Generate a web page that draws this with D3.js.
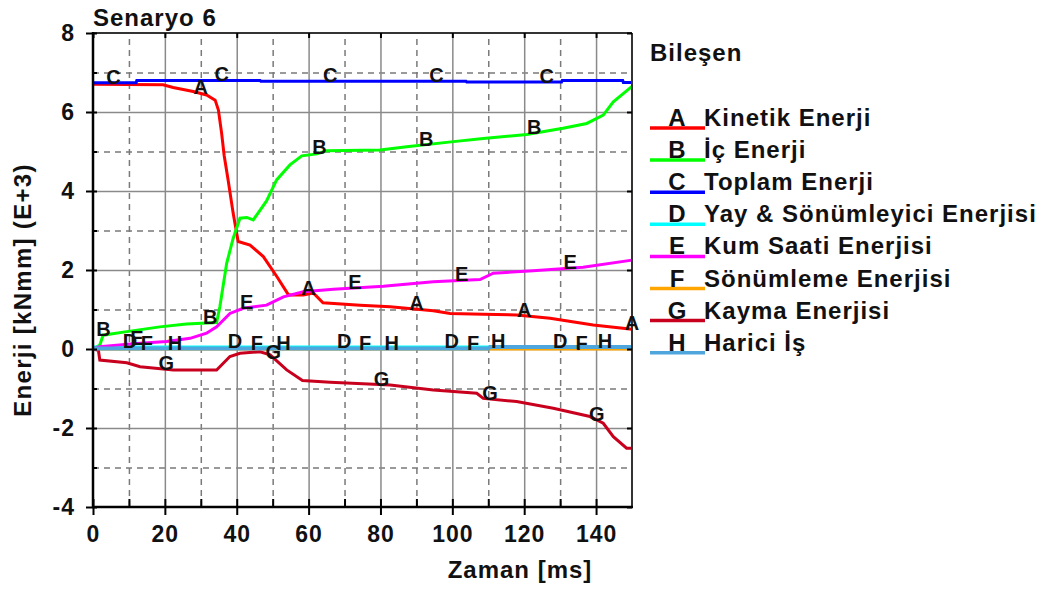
<!DOCTYPE html>
<html>
<head>
<meta charset="utf-8">
<script src="https://cdn.jsdelivr.net/npm/d3@7"></script>
<style>
body { margin: 0; background: #fff; }
text { font-family: "Liberation Sans", Arial, sans-serif; font-weight: bold; fill: #111; }
</style>
</head>
<body>
<svg width="1049" height="590"></svg>
<script>
// series keys, names, colours
const keys = ["A", "B", "C", "D", "E", "F", "G", "H"];
const names = ["Kinetik Enerji", "İç Enerji", "Toplam Enerji", "Yay & Sönümleyici Enerjisi",
               "Kum Saati Enerjisi", "Sönümleme Enerjisi", "Kayma Enerjisi", "Harici İş"];
const colors = ["#ff0000", "#00ff00", "#0000ff", "#00ffff", "#ff00ff", "#ffa500", "#c8001e", "#4ea6dc"];

const xTicks = [0, 20, 40, 60, 80, 100, 120, 140];
const xMinor = [10, 30, 50, 70, 90, 110, 130];
const yTicks = [-4, -2, 0, 2, 4, 6, 8];
const yMinor = [-3, -1, 1, 3, 5, 7];

// [time ms, energy E+3 kNmm]
const kinetik = [[0,6.70],[19.5,6.69],[22.3,6.62],[27.9,6.52],[31.6,6.43],[34,6.30],[34.9,6.05],[35.8,5.46],
  [36.5,4.90],[37.6,4.28],[39,3.44],[40.4,2.72],[43.7,2.63],[47.4,2.34],[51.2,1.83],[54.4,1.37],[58.5,1.37],
  [61.3,1.42],[64,1.17],[74.3,1.11],[82.7,1.07],[94.7,0.97],[99.4,0.90],[108.6,0.88],[117.9,0.86],
  [127.2,0.78],[139.2,0.61],[150,0.50]];
const icEnerji = [[0,0],[1.9,0.10],[2.8,0.35],[9.4,0.44],[18.6,0.56],[26,0.63],[34.4,0.67],[35.3,1.07],
  [37.2,2.17],[39,2.80],[40.9,3.31],[42.8,3.33],[44.6,3.27],[48.3,3.75],[51.1,4.28],[54.8,4.66],[58.1,4.89],
  [62.3,4.94],[65,5.02],[79.9,5.04],[87.3,5.12],[100.3,5.25],[108.6,5.33],[120.7,5.43],[130.8,5.59],
  [137.4,5.71],[142,5.92],[144.8,6.26],[150,6.65]];
const toplam = [[0,6.74],[12,6.74],[12.2,6.80],[46.5,6.80],[46.7,6.78],[103.8,6.78],[104,6.76],
  [130.4,6.76],[130.6,6.80],[147.4,6.80],[147.6,6.75],[150,6.75]];
const yay = [[0,0.05],[150,0.05]];
const kumSaati = [[0,0],[1.9,0.06],[11.2,0.13],[20.5,0.19],[27,0.27],[31.6,0.40],[34.4,0.56],[38.1,0.90],
  [41.8,1.03],[48.3,1.11],[53,1.32],[58.5,1.45],[66.9,1.51],[80.8,1.59],[94.7,1.70],[107.7,1.76],
  [111.4,1.92],[122.5,1.98],[136.4,2.07],[150,2.25]];
const sonumleme = [[0,0],[150,0]];
const kayma = [[0,0],[1.5,-0.03],[1.9,-0.28],[9.4,-0.35],[13.1,-0.45],[22.4,-0.53],[34.4,-0.53],[38.1,-0.19],
  [40.9,-0.11],[46.5,-0.07],[49.3,-0.15],[53.9,-0.53],[58.3,-0.80],[66,-0.84],[82.7,-0.91],[94.7,-1.04],
  [106.8,-1.12],[108.6,-1.25],[117.9,-1.33],[128.1,-1.50],[138.3,-1.71],[142,-1.88],[144.8,-2.22],
  [148.5,-2.51],[150,-2.51]];
const harici = [[0,0.01],[110,0.01],[110.5,0.05],[150,0.05]];

const series = [kinetik, icEnerji, toplam, yay, kumSaati, sonumleme, kayma, harici];

// where the letter tags sit on each curve (ms)
const labelTimes = [
  [30, 60, 90, 120, 150],
  [2.9, 32.6, 63, 92.7, 122.8],
  [5.7, 35.8, 66, 95.6, 126.3],
  [10.3, 39.5, 69.9, 99.8, 130],
  [12.2, 42.8, 72.9, 102.6, 132.8],
  [15, 45.6, 75.7, 105.8, 136],
  [20.4, 50.2, 80.3, 110.5, 140.2],
  [22.8, 53, 83.1, 112.8, 142.5]
];

const pl = 93, pt = 33, pr = 632, pb = 507;

const svg = d3.select("svg");

const x = d3.scaleLinear().domain([0, 150]).range([pl, pr]);
const y = d3.scaleLinear().domain([-4, 8]).range([pb, pt]);

// grid
svg.append("g")
  .attr("transform", "translate(0," + pb + ")")
  .call(d3.axisBottom(x).tickValues(xMinor).tickSize(-(pb - pt)).tickFormat(""))
  .call(g => g.select(".domain").remove())
  .selectAll("line").attr("stroke", "#7a7a7a").attr("stroke-width", 1.5).attr("stroke-dasharray", "6,5");
svg.append("g")
  .attr("transform", "translate(" + pl + ",0)")
  .call(d3.axisLeft(y).tickValues(yMinor).tickSize(-(pr - pl)).tickFormat(""))
  .call(g => g.select(".domain").remove())
  .selectAll("line").attr("stroke", "#7a7a7a").attr("stroke-width", 1.5).attr("stroke-dasharray", "6,5");
svg.append("g")
  .attr("transform", "translate(0," + pb + ")")
  .call(d3.axisBottom(x).tickValues(xTicks.slice(1)).tickSize(-(pb - pt)).tickFormat(""))
  .call(g => g.select(".domain").remove())
  .selectAll("line").attr("stroke", "#8a8a8a").attr("stroke-width", 1.5);
svg.append("g")
  .attr("transform", "translate(" + pl + ",0)")
  .call(d3.axisLeft(y).tickValues(yTicks.slice(1, -1)).tickSize(-(pr - pl)).tickFormat(""))
  .call(g => g.select(".domain").remove())
  .selectAll("line").attr("stroke", "#8a8a8a").attr("stroke-width", 1.5);

// curves
const line = d3.line().x(d => x(d[0])).y(d => y(d[1]));
series.forEach((s, i) => {
  svg.append("path")
    .datum(s)
    .attr("fill", "none")
    .attr("stroke", colors[i])
    .attr("stroke-width", i == 7 ? 4 : 3)
    .attr("d", line);
});

// frame
svg.append("line").attr("x1", pl).attr("x2", pr).attr("y1", pt).attr("y2", pt)
  .attr("stroke", "#333").attr("stroke-width", 2);
svg.append("line").attr("x1", pr).attr("x2", pr).attr("y1", pt).attr("y2", pb)
  .attr("stroke", "#333").attr("stroke-width", 2);
svg.append("line").attr("x1", pl).attr("x2", pl).attr("y1", pt - 1).attr("y2", pb + 1)
  .attr("stroke", "#000").attr("stroke-width", 2.5);
svg.append("line").attr("x1", pl - 1).attr("x2", pr + 1).attr("y1", pb).attr("y2", pb)
  .attr("stroke", "#000").attr("stroke-width", 2.5);

// ticks + tick labels (plain hyphen for negatives, like the original)
function tickStyle(g) {
  g.select(".domain").remove();
  g.selectAll("line").attr("stroke", "#000").attr("stroke-width", 2);
  g.selectAll("text").style("font-size", "23px").style("letter-spacing", "1px").attr("fill", "#111");
}
const plain = d => String(d);
svg.append("g").attr("transform", "translate(" + pl + ",0)")
  .call(d3.axisLeft(y).tickValues(yTicks).tickSize(7).tickPadding(11).tickFormat(plain)).call(tickStyle);
svg.append("g").attr("transform", "translate(" + pl + ",0)")
  .call(d3.axisRight(y).tickValues(yTicks).tickSize(4).tickFormat("")).call(tickStyle);
svg.append("g").attr("transform", "translate(" + pl + ",0)")
  .call(d3.axisRight(y).tickValues(yMinor).tickSize(4).tickFormat("")).call(tickStyle);
svg.append("g").attr("transform", "translate(0," + pb + ")")
  .call(d3.axisBottom(x).tickValues(xTicks).tickSize(8).tickPadding(11).tickFormat(plain)).call(tickStyle);
svg.append("g").attr("transform", "translate(0," + pb + ")")
  .call(d3.axisTop(x).tickValues(xTicks).tickSize(8).tickFormat("")).call(tickStyle);
svg.append("g").attr("transform", "translate(0," + pb + ")")
  .call(d3.axisTop(x).tickValues(xMinor).tickSize(8).tickFormat("")).call(tickStyle);
svg.append("g").attr("transform", "translate(0," + pt + ")")
  .call(d3.axisBottom(x).tickValues(xTicks).tickSize(5).tickFormat("")).call(tickStyle);
svg.append("g").attr("transform", "translate(" + pr + ",0)")
  .call(d3.axisLeft(y).tickValues(yTicks).tickSize(5).tickFormat("")).call(tickStyle);

// letter tags on curves
function valueAt(s, t) {
  for (let k = 1; k < s.length; k++) {
    if (t <= s[k][0]) {
      const a = s[k - 1], b = s[k];
      return a[1] + (b[1] - a[1]) * (t - a[0]) / (b[0] - a[0]);
    }
  }
  return s[s.length - 1][1];
}
series.forEach((s, i) => {
  svg.append("g").selectAll("text")
    .data(labelTimes[i])
    .enter()
    .append("text")
    .attr("x", d => x(d))
    .attr("y", d => y(valueAt(s, d)) + 1)
    .attr("text-anchor", "middle")
    .style("font-size", "20px")
    .text(keys[i]);
});

// titles
svg.append("text").attr("x", pl).attr("y", 26)
  .style("font-size", "24px").style("letter-spacing", "1px")
  .text("Senaryo 6");
svg.append("text").attr("x", 520).attr("y", 578)
  .attr("text-anchor", "middle")
  .style("font-size", "24px").style("letter-spacing", "1px")
  .text("Zaman [ms]");
svg.append("text")
  .attr("transform", "translate(31,290) rotate(-90)")
  .attr("text-anchor", "middle")
  .style("font-size", "24px").style("letter-spacing", "1.3px")
  .text("Enerji [kNmm] (E+3)");

// legend
svg.append("text").attr("x", 650).attr("y", 61)
  .style("font-size", "24px").style("letter-spacing", "1px")
  .text("Bileşen");
const leg = svg.append("g").selectAll("g")
  .data(keys)
  .enter()
  .append("g")
  .attr("transform", (d, i) => "translate(0," + (128 + i * 32.1) + ")");
leg.append("line")
  .attr("x1", 650).attr("x2", 705).attr("y1", 0).attr("y2", 0)
  .attr("stroke", (d, i) => colors[i]).attr("stroke-width", 3.5);
leg.append("text")
  .attr("x", 677).attr("y", -2)
  .attr("text-anchor", "middle")
  .style("font-size", "24px")
  .text(d => d);
leg.append("text")
  .attr("x", 704).attr("y", -2)
  .style("font-size", "24px").style("letter-spacing", "1px")
  .text((d, i) => names[i]);
</script>
</body>
</html>
